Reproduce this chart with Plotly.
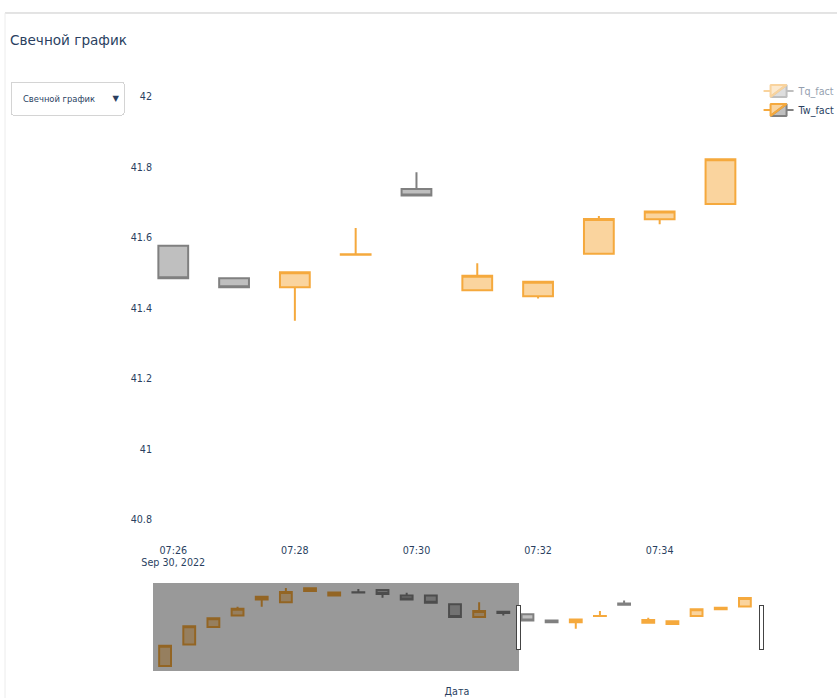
import pandas as pd
import plotly.graph_objects as go

# One-minute candles for Tw_fact, 30 Sep 2022
times = pd.date_range("2022-09-30 07:11", "2022-09-30 07:35", freq="1min")
tw_open = [40.81, 41.13, 41.39, 41.56, 41.80, 41.76, 41.925, 41.86, 41.907, 41.94,
           41.86, 41.86, 41.73, 41.54, 41.617, 41.578, 41.486, 41.46, 41.552, 41.739,
           41.452, 41.435, 41.555, 41.653, 41.696]
tw_high = [41.11, 41.40, 41.52, 41.69, 41.84, 41.97, 41.975, 41.905, 41.955, 41.94,
           41.90, 41.86, 41.73, 41.76, 41.617, 41.578, 41.486, 41.503, 41.628, 41.786,
           41.528, 41.476, 41.662, 41.675, 41.823]
tw_low = [40.80, 41.13, 41.39, 41.56, 41.69, 41.76, 41.925, 41.86, 41.903, 41.826,
          41.80, 41.75, 41.54, 41.54, 41.56, 41.486, 41.46, 41.365, 41.552, 41.72,
          41.452, 41.428, 41.555, 41.639, 41.696]
tw_close = [41.11, 41.40, 41.52, 41.66, 41.84, 41.91, 41.965, 41.905, 41.903, 41.88,
            41.80, 41.75, 41.54, 41.63, 41.598, 41.486, 41.46, 41.503, 41.554, 41.72,
            41.493, 41.476, 41.654, 41.675, 41.823]

# Tq_fact is switched off (legend only); its readings are not shown
tq_times = [times[-1]]
tq_missing = [None]

view_range = ["2022-09-30 07:25:40", "2022-09-30 07:35:40"]
slider_range = ["2022-09-30 07:10:30", "2022-09-30 07:35:40"]
y_range = [40.735, 42.045]

UP = "#F5A93D"
DOWN = "gray"
FONT = "Verdana, DejaVu Sans, sans-serif"
TXT = "#2a3f5f"

fig = go.Figure()
fig.add_trace(go.Candlestick(
    x=tq_times, open=tq_missing, high=tq_missing, low=tq_missing, close=tq_missing,
    name="Tq_fact", visible="legendonly", showlegend=True,
    increasing=dict(line=dict(color=UP)), decreasing=dict(line=dict(color=DOWN)),
))
fig.add_trace(go.Candlestick(
    x=times, open=tw_open, high=tw_high, low=tw_low, close=tw_close, name="Tw_fact",
    showlegend=True,
    increasing=dict(line=dict(color=UP)), decreasing=dict(line=dict(color=DOWN)),
))

# thin frame around the card
fig.add_shape(type="line", xref="paper", yref="paper", x0=-0.2434, x1=1.2,
              y0=1.1472, y1=1.1472, line=dict(color="#c8c8c8", width=1))
fig.add_shape(type="line", xref="paper", yref="paper", x0=-0.2434, x1=-0.2434,
              y0=1.1472, y1=-0.4, line=dict(color="#ececec", width=1))

fig.update_layout(
    template="plotly_white",
    width=837, height=698,
    showlegend=True,
    margin=dict(l=153, r=76, t=81, b=155, autoexpand=False),
    font=dict(family=FONT, size=9.6, color=TXT),
    title=dict(text="Свечной график", x=10 / 837, xref="container", xanchor="left",
               y=1 - 40 / 698, yref="container", yanchor="middle",
               font=dict(size=13.6, color=TXT)),
    xaxis=dict(
        range=view_range, showgrid=False, zeroline=False,
        dtick=120000, tick0="2022-09-30 07:26",
        title=dict(text="Дата", font=dict(size=9.6)),
        rangeslider=dict(visible=True, range=slider_range, thickness=0.19),
    ),
    yaxis=dict(range=y_range, showgrid=False, zeroline=False, dtick=0.2),
    legend=dict(font=dict(size=9.6), x=0.996, y=1.01, yanchor="top",
                bgcolor="rgba(0,0,0,0)"),
    updatemenus=[dict(
        type="dropdown", x=-0.049, xanchor="right", y=1, yanchor="top",
        font=dict(size=8.4), bgcolor="white", bordercolor="#d4d4d4",
        buttons=[
            dict(label="Свечной график", method="restyle", args=[{"type": "candlestick"}]),
            dict(label="OHLC график", method="restyle", args=[{"type": "ohlc"}]),
        ],
    )],
)

fig.write_html("out.html")
